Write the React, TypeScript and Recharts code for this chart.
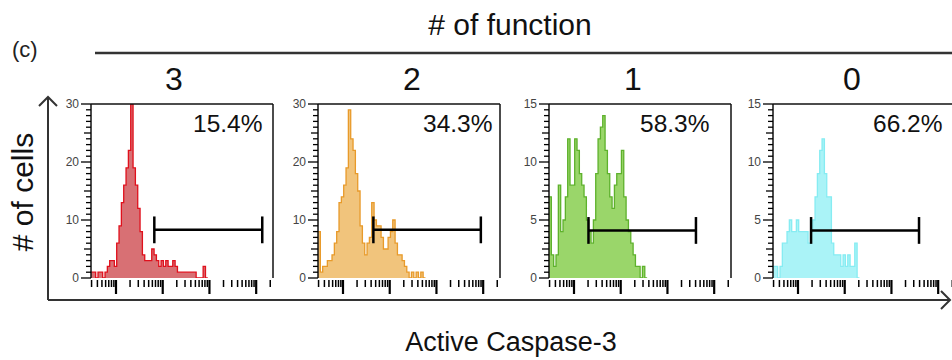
import React from 'react';
import { ComposedChart, Area, XAxis, YAxis, ReferenceLine } from 'recharts';

const FONT = '"Liberation Sans", Arial, Helvetica, sans-serif';

// ---------- data ----------
const functionCounts = ['3', '2', '1', '0'];
const percentLabels = ['15.4%', '34.3%', '58.3%', '66.2%'];
const yMaxes = [30, 30, 15, 15];
const yMajorTicks = [
  [0, 10, 20, 30],
  [0, 10, 20, 30],
  [0, 5, 10, 15],
  [0, 5, 10, 15],
];
const yMinorSteps = [1, 1, 0.5, 0.5];

// histogram bins on a log10(intensity) axis
const binStartLog = 0.465;
const binWidthLog = 0.05;

const counts3 = [1, 1, 0, 1, 1, 0, 1, 2, 3, 3, 2, 6, 9, 13, 16, 19, 22, 30, 19, 16, 12, 8, 4, 3, 3, 3, 5, 4, 3, 2, 3, 2, 3, 2, 2, 3, 2, 1, 1, 1, 1, 1, 1, 1, 1, 0, 0, 0, 2, 0];
const counts2 = [8, 1, 2, 2, 3, 3, 4, 6, 8, 13, 14, 16, 19, 29, 24, 22, 18, 15, 9, 6, 4, 6, 7, 13, 10, 9, 9, 7, 5, 5, 7, 8, 10, 6, 4, 4, 3, 2, 1, 0, 1, 0, 1, 0, 1, 0];
const counts1 = [7, 2, 1, 2, 8, 4, 5, 7, 12, 8, 8, 12, 11, 9, 8, 7, 5, 4, 3, 5, 9, 12, 13, 14, 11, 9, 7, 6, 8, 9, 9, 11, 7, 5, 4, 3, 2, 1, 1, 0, 1, 0];
const counts0 = [1, 1, 0, 1, 3, 3, 4, 5, 4, 4, 5, 4, 4, 4, 4, 3, 4, 5, 7, 9, 11, 12, 9, 7, 7, 3, 2, 2, 2, 1, 2, 1, 2, 1, 1, 3, 0];
const panelCounts = [counts3, counts2, counts1, counts0];

// gate (bracket) positions: log10 intensity start/end and height in cells
const gateStarts = [1.82, 1.65, 1.31, 1.28];
const gateEnds = [4.13, 3.95, 3.61, 3.59];
const gateLevels = [8.3, 8.3, 4.1, 4.1];

// x axis tick values (intensity), log decades
const xTickValues = [
  3, 4, 5, 6, 7, 8, 9,
  10, 20, 30, 40, 50, 60, 70, 80, 90,
  100, 200, 300, 400, 500, 600, 700, 800, 900,
  1000, 2000, 3000, 4000, 5000, 6000, 7000, 8000, 9000,
  10000, 20000,
];
const xMajorValues = [10, 100, 1000, 10000];

// ---------- styles ----------
const strokeColors = ['#e0101c', '#e89a2a', '#5eb12c', '#86ecf2'];
const fillColors = ['#d87074', '#f1c47c', '#9ad66a', '#aaf3f7'];

const panelLefts = [91, 318, 549, 773];
const PLOT_W = 182;
const PLOT_TOP = 104;
const PLOT_H = 174;
const YAXIS_W = 30;
const MARGIN_TOP = 6;
const MARGIN_RIGHT = 4;
const XAXIS_H = 20;
const X_DOMAIN_MAX = 4.36;

const percentX = [193, 423, 640, 873];
const panelLabelX = [174, 412, 633, 852];

const xTicks = xTickValues.map((v) => Math.log10(v));
const xMajorLogs = xMajorValues.map((v) => Math.log10(v));

function buildYTicks(max: number, step: number) {
  const t: number[] = [];
  for (let v = 0; v <= max + 1e-9; v += step) t.push(Math.round(v * 10) / 10);
  return t;
}

function toHistogram(counts: number[]) {
  const rows = counts.map((c, i) => ({ logI: binStartLog + i * binWidthLog, count: c }));
  rows.push({ logI: binStartLog + counts.length * binWidthLog, count: 0 });
  return rows;
}

const XTick = (props: any) => {
  const { x, y, payload } = props;
  const major = xMajorLogs.some((m) => Math.abs(m - payload.value) < 1e-6);
  return (
    <line
      x1={x}
      x2={x}
      y1={y + 2}
      y2={y + (major ? 16 : 9)}
      stroke="#000"
      strokeWidth={major ? 2.2 : 1.5}
    />
  );
};

const makeYTick = (majors: number[], mid: number) => (props: any) => {
  const { x, y, payload } = props;
  const v = payload.value;
  const isMajor = majors.includes(v);
  const isMid = !isMajor && Math.abs(v % mid) < 1e-6;
  const len = isMajor ? 10 : isMid ? 7 : 5;
  return (
    <g>
      <line x1={x - len} x2={x} y1={y} y2={y} stroke="#000" strokeWidth={1.3} />
      {isMajor && (
        <text x={x - 12} y={y} dy={4} textAnchor="end" fontSize={12} fill="#444" fontFamily={FONT}>
          {v}
        </text>
      )}
    </g>
  );
};

function Panel({ idx }: { idx: number }) {
  const yMax = yMaxes[idx];
  const data = toHistogram(panelCounts[idx]);
  const yTicks = buildYTicks(yMax, yMinorSteps[idx]);
  const capH = yMax * 0.077;
  const gs = gateStarts[idx];
  const ge = gateEnds[idx];
  const gl = gateLevels[idx];
  const YTick = makeYTick(yMajorTicks[idx], yMax === 30 ? 5 : 2.5);
  return (
    <div
      style={{
        position: 'absolute',
        left: panelLefts[idx] - YAXIS_W,
        top: PLOT_TOP - MARGIN_TOP,
      }}
    >
      <ComposedChart
        width={YAXIS_W + PLOT_W + MARGIN_RIGHT}
        height={MARGIN_TOP + PLOT_H + XAXIS_H}
        data={data}
        margin={{ top: MARGIN_TOP, right: MARGIN_RIGHT, bottom: 0, left: 0 }}
      >
        <XAxis
          type="number"
          dataKey="logI"
          domain={[binStartLog, X_DOMAIN_MAX]}
          allowDataOverflow
          ticks={xTicks}
          interval={0}
          axisLine={false}
          tickLine={false}
          tickSize={0}
          tickMargin={0}
          height={XAXIS_H}
          tick={XTick}
        />
        <YAxis
          type="number"
          domain={[0, yMax]}
          allowDataOverflow
          ticks={yTicks}
          interval={0}
          width={YAXIS_W}
          axisLine={{ stroke: '#111', strokeWidth: 1.5 }}
          tickLine={false}
          tickSize={0}
          tickMargin={0}
          tick={YTick}
        />
        <Area
          type="stepAfter"
          dataKey="count"
          stroke={strokeColors[idx]}
          strokeWidth={1.3}
          fill={fillColors[idx]}
          fillOpacity={1}
          dot={false}
          activeDot={false}
          isAnimationActive={false}
        />
        <ReferenceLine y={yMax} stroke="#111" strokeWidth={1.5} />
        <ReferenceLine x={X_DOMAIN_MAX} stroke="#111" strokeWidth={1.5} />
        <ReferenceLine
          segment={[{ x: gs, y: gl }, { x: ge, y: gl }]}
          stroke="#000"
          strokeWidth={2.5}
        />
        <ReferenceLine
          segment={[{ x: gs, y: gl - capH }, { x: gs, y: gl + capH }]}
          stroke="#000"
          strokeWidth={2.5}
        />
        <ReferenceLine
          segment={[{ x: ge, y: gl - capH }, { x: ge, y: gl + capH }]}
          stroke="#000"
          strokeWidth={2.5}
        />
      </ComposedChart>
    </div>
  );
}

export default function App() {
  return (
    <div
      style={{
        position: 'absolute',
        left: 0,
        top: 0,
        width: 952,
        height: 360,
        overflow: 'hidden',
        background: '#fff',
        fontFamily: FONT,
      }}
    >
      <svg width={952} height={360} style={{ position: 'absolute', left: 0, top: 0 }}>
        <text x={12} y={57} fontSize={22} fill="#222" fontFamily={FONT}>(c)</text>
        <text x={510} y={35} fontSize={30} textAnchor="middle" fill="#111" fontFamily={FONT}>
          # of function
        </text>
        <line x1={95} y1={53} x2={952} y2={53} stroke="#333" strokeWidth={2.5} />
        {functionCounts.map((c, i) => (
          <text key={c} x={panelLabelX[i]} y={90} fontSize={32} textAnchor="middle" fill="#111" fontFamily={FONT}>
            {c}
          </text>
        ))}
        <text
          transform="translate(33,192) rotate(-90)"
          fontSize={30}
          textAnchor="middle"
          fill="#111"
          fontFamily={FONT}
        >
          # of cells
        </text>
        <line x1={48} y1={97} x2={48} y2={300} stroke="#333" strokeWidth={2} />
        <polyline points="39,106 48,97 57,106" fill="none" stroke="#333" strokeWidth={2} />
        <line x1={48} y1={300} x2={950} y2={300} stroke="#333" strokeWidth={2} />
        <polyline points="941,291 950,300 941,309" fill="none" stroke="#333" strokeWidth={2} />
        <text x={511} y={351} fontSize={27} textAnchor="middle" fill="#111" fontFamily={FONT}>
          Active Caspase-3
        </text>
      </svg>
      {[0, 1, 2, 3].map((i) => (
        <Panel key={i} idx={i} />
      ))}
      <svg width={952} height={360} style={{ position: 'absolute', left: 0, top: 0, pointerEvents: 'none' }}>
        {percentLabels.map((p, i) => (
          <text key={p} x={percentX[i]} y={132} fontSize={24.5} fill="#111" fontFamily={FONT}>
            {p}
          </text>
        ))}
      </svg>
    </div>
  );
}
